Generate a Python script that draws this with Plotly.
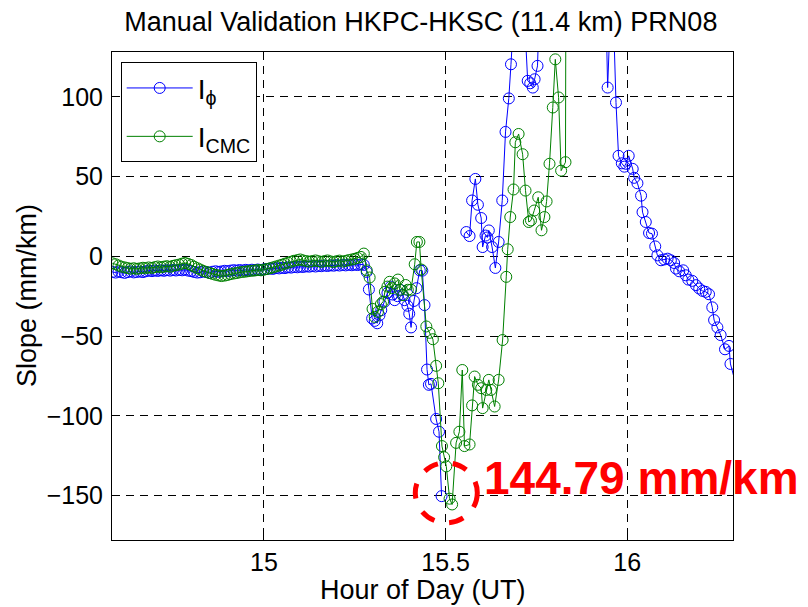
import plotly.graph_objects as go

# ---------------- data ----------------
phi_t = [14.583, 14.592, 14.600, 14.608, 14.617, 14.625, 14.633, 14.642, 14.650, 14.658,
         14.667, 14.675, 14.683, 14.692, 14.700, 14.708, 14.717, 14.725, 14.733, 14.742,
         14.750, 14.758, 14.767, 14.775, 14.783, 14.792, 14.800, 14.808, 14.817, 14.825,
         14.833, 14.842, 14.850, 14.858, 14.867, 14.875, 14.883, 14.892, 14.900, 14.908,
         14.917, 14.925, 14.933, 14.942, 14.950, 14.958, 14.967, 14.975, 14.983, 14.992,
         15.000, 15.008, 15.017, 15.025, 15.033, 15.042, 15.050, 15.058, 15.067, 15.075,
         15.083, 15.092, 15.100, 15.108, 15.117, 15.125, 15.133, 15.142, 15.150, 15.158,
         15.167, 15.175, 15.183, 15.192, 15.200, 15.208, 15.217, 15.225, 15.233, 15.242,
         15.250, 15.258, 15.267, 15.275,
         15.283, 15.289, 15.298, 15.305, 15.312, 15.318, 15.323, 15.332, 15.340, 15.349,
         15.355, 15.360, 15.368, 15.375, 15.381, 15.387, 15.395, 15.400, 15.405, 15.413,
         15.420, 15.429, 15.436, 15.442, 15.449, 15.454, 15.460, 15.474, 15.482, 15.489,
         15.520,
         15.557, 15.566, 15.573, 15.582, 15.589, 15.598, 15.602, 15.610, 15.615, 15.619,
         15.628, 15.637, 15.646, 15.656, 15.665, 15.674, 15.680, 15.690, 15.700, 15.715,
         15.726, 15.733, 15.740, 15.745, 15.753, 15.760, 15.940, 15.946, 15.958, 15.969,
         15.976, 15.985, 15.992, 15.996, 16.004, 16.015, 16.019, 16.028, 16.038, 16.042,
         16.051, 16.060, 16.068, 16.077, 16.083, 16.093, 16.102, 16.111, 16.120, 16.129,
         16.134, 16.143, 16.154, 16.161, 16.168, 16.179, 16.189, 16.198, 16.207, 16.216,
         16.225, 16.234, 16.239, 16.248, 16.257, 16.269, 16.280, 16.284, 16.310]
phi_v = [-9.8, -10.2, -9.6, -10.0, -10.4, -9.9, -9.5, -10.1, -9.8, -9.6,
         -9.9, -9.4, -9.0, -9.3, -8.9, -9.2, -8.8, -9.1, -8.7, -9.0,
         -8.6, -8.9, -8.5, -8.8, -8.4, -9.0, -9.3, -9.8, -10.2, -10.0,
         -9.6, -9.9, -10.3, -9.7, -9.4, -9.8, -9.5, -9.1, -9.4, -9.0,
         -8.7, -9.0, -8.6, -8.9, -8.5, -8.8, -8.4, -8.7, -8.3, -8.6,
         -8.2, -8.0, -7.7, -7.9, -7.4, -7.6, -7.2, -7.4, -6.9, -7.1,
         -6.7, -6.9, -6.5, -6.7, -6.3, -6.5, -6.1, -6.4, -6.0, -6.2,
         -5.8, -6.1, -5.7, -5.9, -5.5, -5.8, -5.4, -5.7, -5.3, -5.6,
         -5.2, -5.5, -5.1, -5.4,
         -9.8, -20.8, -39.0, -40.5, -42.0, -37.0, -33.8, -28.5, -23.0, -19.0,
         -24.0, -27.5, -25.0, -21.0, -24.0, -27.5, -31.0, -36.0, -44.6, -28.0,
         -20.0, -8.8, -9.0, -30.6, -71.0, -80.6, -80.0, -102.0, -110.0, -150.4,
         None,
         15.2, 12.7, 35.0, 48.5, 32.3, 24.0, 5.8, 13.0, 11.8, 16.2,
         5.8, -7.3, 9.0, 35.0, 78.0, 99.0, 120.4, 170.0, 200.0, 160.0,
         110.0, 108.5, 105.8, 111.0, 119.4, 170.0, 170.0, 105.8, 180.0, 96.4,
         63.0, 58.3, 56.2, 58.0, 63.0, 54.8, 49.2, 45.8, 38.0, 27.7,
         21.5, 14.6, 14.2, 6.2, 0.6, -2.5, -2.0, -1.5, -2.5, -4.2,
         -7.7, -9.4, -8.8, -11.9, -14.6, -15.4, -18.1, -20.2, -21.7, -22.3,
         -23.8, -32.0, -40.0, -44.6, -49.4, -58.3, -56.2, -67.5, -90.0]

cmc_t = [14.583, 14.592, 14.600, 14.608, 14.617, 14.625, 14.633, 14.642, 14.650, 14.658,
         14.667, 14.675, 14.683, 14.692, 14.700, 14.708, 14.717, 14.725, 14.733, 14.742,
         14.750, 14.758, 14.767, 14.775, 14.783, 14.792, 14.800, 14.808, 14.817, 14.825,
         14.833, 14.842, 14.850, 14.858, 14.867, 14.875, 14.883, 14.892, 14.900, 14.908,
         14.917, 14.925, 14.933, 14.942, 14.950, 14.958, 14.967, 14.975, 14.983, 14.992,
         15.000, 15.008, 15.017, 15.025, 15.033, 15.042, 15.050, 15.058, 15.067, 15.075,
         15.083, 15.092, 15.100, 15.108, 15.117, 15.125, 15.133, 15.142, 15.150, 15.158,
         15.167, 15.175, 15.183, 15.192, 15.200, 15.208, 15.217, 15.225, 15.233, 15.242,
         15.250, 15.258, 15.267, 15.275,
         15.283, 15.291, 15.299, 15.305, 15.314, 15.322, 15.328, 15.333, 15.340, 15.346,
         15.352, 15.360, 15.369, 15.374, 15.383, 15.390, 15.396, 15.405, 15.415, 15.421,
         15.428, 15.433, 15.447, 15.456, 15.465, 15.474, 15.480, 15.490, 15.496, 15.502,
         15.511, 15.518, 15.529, 15.538, 15.546, 15.552, 15.566, 15.573, 15.580, 15.589,
         15.598, 15.602, 15.612, 15.619, 15.625, 15.635, 15.646, 15.657, 15.667, 15.671,
         15.678, 15.687, 15.692, 15.701, 15.712, 15.720, 15.729, 15.735, 15.744, 15.755,
         15.764, 15.772, 15.778, 15.786, 15.795, 15.802, 15.811, 15.818, 15.830, 15.832]
cmc_v = [-4.4, -5.0, -5.8, -6.5, -7.0, -7.4, -7.8, -7.5, -7.9, -7.6,
         -7.2, -7.5, -7.0, -7.3, -6.8, -6.4, -6.9, -6.5, -6.2, -6.6,
         -6.0, -5.6, -5.2, -4.6, -4.2, -4.8, -5.5, -6.5, -7.5, -8.3,
         -9.2, -9.8, -10.5, -11.0, -11.6, -12.0, -12.4, -12.1, -11.7, -11.2,
         -10.8, -10.5, -10.1, -9.8, -9.6, -9.3, -9.1, -8.9, -8.6, -8.8,
         -8.4, -8.0, -7.5, -7.0, -6.4, -5.8, -5.3, -4.6, -4.0, -3.4,
         -2.8, -2.4, -2.0, -2.6, -3.0, -3.4, -3.0, -2.6, -3.1, -3.5,
         -3.0, -2.6, -3.2, -3.6, -3.1, -2.7, -3.3, -2.9, -2.4, -2.0,
         -1.6, -1.0, -0.4, 1.7,
         -8.8, -13.3, -33.0, -38.0, -34.8, -30.0, -28.5, -22.3, -19.0, -16.0,
         -20.0, -17.0, -14.6, -21.0, -24.4, -18.0, -21.0, -21.0, -5.0, 9.0,
         9.0, -8.3, -44.0, -48.0, -52.0, -68.7, -79.6, -119.0, -126.0, -131.7,
         -152.0, -155.6, -117.0, -110.0, -71.3, -119.0, -118.0, -93.5, -75.4, -80.6,
         -82.7, -95.2, -83.8, -77.5, -83.8, -94.2, -77.5, -52.5, -12.9, 4.4,
         24.6, 41.9, 71.5, 76.7, 64.0, 41.2, 21.5, 22.5, 28.7, 37.0,
         16.3, 24.6, 34.4, 58.0, 93.3, 123.5, 99.6, 53.7, 59.0, 260.0]

x_ticks = [15, 15.5, 16]
y_ticks = [-150, -100, -50, 0, 50, 100]
x_range = [14.582, 16.291]
y_range = [-177.9, 128.1]
mark_x, mark_y = 15.502, -148.3
mark_text = "144.79 mm/km"

FONT = "Liberation Sans, Arial, Helvetica, sans-serif"
# the page body adds an 8px margin, so the figure itself is 8px smaller each way
W, H = 800, 599
ML, MR, MT, MB = 104, 75, 44, 67
PW, PH = W - ML - MR, H - MT - MB

fig = go.Figure()
fig.add_trace(go.Scatter(
    x=phi_t, y=phi_v, mode="lines+markers", name="I<sub>\u03d5</sub>",
    line=dict(color="rgb(0,0,255)", width=1),
    marker=dict(symbol="circle-open", size=11, color="rgb(0,0,255)", line=dict(width=1)),
    connectgaps=False, legendgroup="a"))
fig.add_trace(go.Scatter(
    x=cmc_t, y=cmc_v, mode="lines+markers", name="I<sub>CMC</sub>",
    line=dict(color="rgb(0,128,0)", width=1),
    marker=dict(symbol="circle-open", size=11, color="rgb(0,128,0)", line=dict(width=1)),
    legendgroup="b"))

# red dashed circle highlighting the minimum
fig.add_shape(type="circle", xref="x", yref="y", xsizemode="pixel", ysizemode="pixel",
              xanchor=mark_x, yanchor=mark_y, x0=-31, x1=31, y0=-30, y1=30,
              line=dict(color="rgb(255,0,0)", width=5, dash="dash"), layer="above")
fig.add_annotation(x=16.040, y=-139.0, xref="x", yref="y", text="<b>" + mark_text + "</b>",
                   showarrow=False, xanchor="center", yanchor="middle",
                   font=dict(family=FONT, size=46, color="rgb(255,0,0)"))

# axis titles (placed as annotations for exact positioning)
fig.add_annotation(x=0.5, y=-(582 - (H - MB)) / PH, xref="paper", yref="paper",
                   text="Hour of Day (UT)", showarrow=False, xanchor="center", yanchor="middle",
                   font=dict(family=FONT, size=27, color="black"))
fig.add_annotation(x=-(ML - 19) / PW, y=0.5, xref="paper", yref="paper",
                   text="Slope (mm/km)", showarrow=False, xanchor="center", yanchor="middle",
                   textangle=-90, font=dict(family=FONT, size=27, color="black"))

axis_common = dict(
    showline=True, linecolor="black", linewidth=1, mirror="ticks",
    ticks="inside", ticklen=6, tickcolor="black", automargin=False,
    showgrid=True, gridcolor="black", gridwidth=1, griddash="8px,6px",
    zeroline=False, tickfont=dict(family=FONT, size=25, color="black"),
)
fig.update_xaxes(range=x_range, tickvals=x_ticks, ticktext=["15", "15.5", "16"],
                 ticklabelstandoff=0, **axis_common)
fig.update_yaxes(range=y_range, tickvals=y_ticks, ticklabelstandoff=3, **axis_common)

fig.update_layout(
    width=W, height=H,
    margin=dict(l=ML, r=MR, t=MT, b=MB, autoexpand=False),
    paper_bgcolor="white", plot_bgcolor="white",
    title=dict(text="Manual Validation HKPC-HKSC (11.4 km) PRN08", x=0.516, xanchor="center",
               y=1 - 14 / H, yanchor="middle", font=dict(family=FONT, size=27, color="black")),
    showlegend=True,
    legend=dict(x=0.014, y=0.979, xanchor="left", yanchor="top", bgcolor="white",
                bordercolor="black", borderwidth=1, tracegroupgap=9, itemwidth=66,
                font=dict(family=FONT, size=28, color="black")),
    font=dict(family=FONT, color="black"),
)

fig.write_html("out.html")
